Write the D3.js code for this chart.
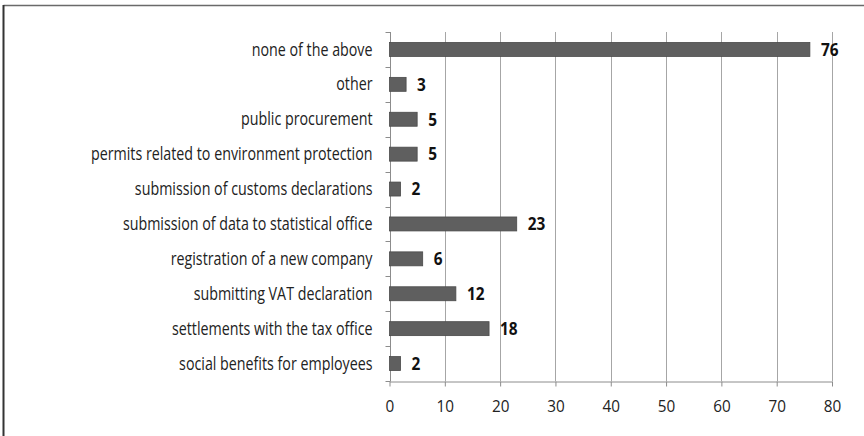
<!DOCTYPE html>
<html>
<head>
<meta charset="utf-8">
<script src="https://cdn.jsdelivr.net/npm/d3@7"></script>
<style>
  html, body { margin: 0; padding: 0; background: #fff; }
  svg { display: block; }
</style>
</head>
<body>
<svg id="chart" width="864" height="436"></svg>
<script>
// Categories listed top to bottom, with their counts
const categories = [
  "none of the above",
  "other",
  "public procurement",
  "permits related to environment protection",
  "submission of customs declarations",
  "submission of data to statistical office",
  "registration of a new company",
  "submitting VAT declaration",
  "settlements with the tax office",
  "social benefits for employees"
];
const values = [76, 3, 5, 5, 2, 23, 6, 12, 18, 2];
const xTicks = [0, 10, 20, 30, 40, 50, 60, 70, 80];

const svg = d3.select("#chart");
const W = 864, H = 436;
const margin = { top: 32, right: 32, bottom: 55, left: 389.5 };
const font = "'Open Sans', 'Liberation Sans', sans-serif";
const squeeze = 0.815; // narrow the glyphs a little for a condensed look

// Frame around the chart area (top and left edges visible)
svg.append("line").attr("x1", 3.5).attr("x2", W).attr("y1", 5.5).attr("y2", 5.5)
  .attr("stroke", "#6a6a6a").attr("stroke-width", 1.5);
svg.append("line").attr("x1", 3.5).attr("x2", 3.5).attr("y1", 5).attr("y2", H)
  .attr("stroke", "#333").attr("stroke-width", 2);

const x = d3.scaleLinear().domain([0, 80]).range([margin.left, W - margin.right]);
const y = d3.scaleBand().domain(categories).range([margin.top, H - margin.bottom]).paddingInner(0.6).paddingOuter(0.3);
const yFull = d3.scaleBand().domain(categories).range([margin.top, H - margin.bottom]);

// Vertical gridlines
svg.append("g").selectAll("line").data(xTicks.filter(d => d > 0)).join("line")
  .attr("x1", d => Math.round(x(d)) + 0.5).attr("x2", d => Math.round(x(d)) + 0.5)
  .attr("y1", margin.top).attr("y2", H - margin.bottom)
  .attr("stroke", "#a6a6a6").attr("stroke-width", 1);

// X axis
const xAxis = svg.append("g")
  .attr("transform", `translate(0,${H - margin.bottom + 0.5})`)
  .call(d3.axisBottom(x).tickValues(xTicks).tickSize(5).tickPadding(13).tickSizeOuter(0));
xAxis.select(".domain").attr("stroke", "#8c8c8c");
xAxis.selectAll(".tick line").attr("stroke", "#8c8c8c");
xAxis.selectAll(".tick text")
  .attr("font-family", font).attr("font-size", 17).attr("fill", "#222")
  .attr("transform", "scale(0.9,1)");

// Y axis with ticks at category boundaries
const yAxisG = svg.append("g").attr("transform", `translate(${Math.round(margin.left) + 0.5},0)`);
yAxisG.append("line").attr("y1", margin.top).attr("y2", H - margin.bottom)
  .attr("stroke", "#8c8c8c");
const boundaries = categories.map(c => yFull(c)).concat([H - margin.bottom]);
yAxisG.selectAll("line.tk").data(boundaries).join("line").attr("class", "tk")
  .attr("x1", -5).attr("x2", 0)
  .attr("y1", d => Math.round(d) + 0.5).attr("y2", d => Math.round(d) + 0.5)
  .attr("stroke", "#8c8c8c");

// Category labels
svg.append("g").selectAll("text").data(categories).join("text")
  .attr("transform", d => `translate(${margin.left - 17},${yFull(d) + yFull.bandwidth() / 2}) scale(${squeeze},1)`)
  .attr("dy", "0.35em")
  .attr("text-anchor", "end")
  .attr("font-family", font).attr("font-size", 17.5).attr("fill", "#222")
  .text(d => d);

// Bars
svg.append("g").selectAll("rect").data(values).join("rect")
  .attr("x", x(0))
  .attr("y", (d, i) => y(categories[i]))
  .attr("width", d => x(d) - x(0))
  .attr("height", y.bandwidth())
  .attr("fill", "#5f5f5f")
  .attr("stroke", "#4a4a4a").attr("stroke-width", 0.8);

// Value labels
svg.append("g").selectAll("text").data(values).join("text")
  .attr("transform", (d, i) => `translate(${x(d) + 11},${yFull(categories[i]) + yFull.bandwidth() / 2}) scale(0.88,1)`)
  .attr("dy", "0.36em")
  .attr("font-family", font).attr("font-size", 17.5).attr("font-weight", "bold").attr("fill", "#111")
  .text(d => d);
</script>
</body>
</html>
